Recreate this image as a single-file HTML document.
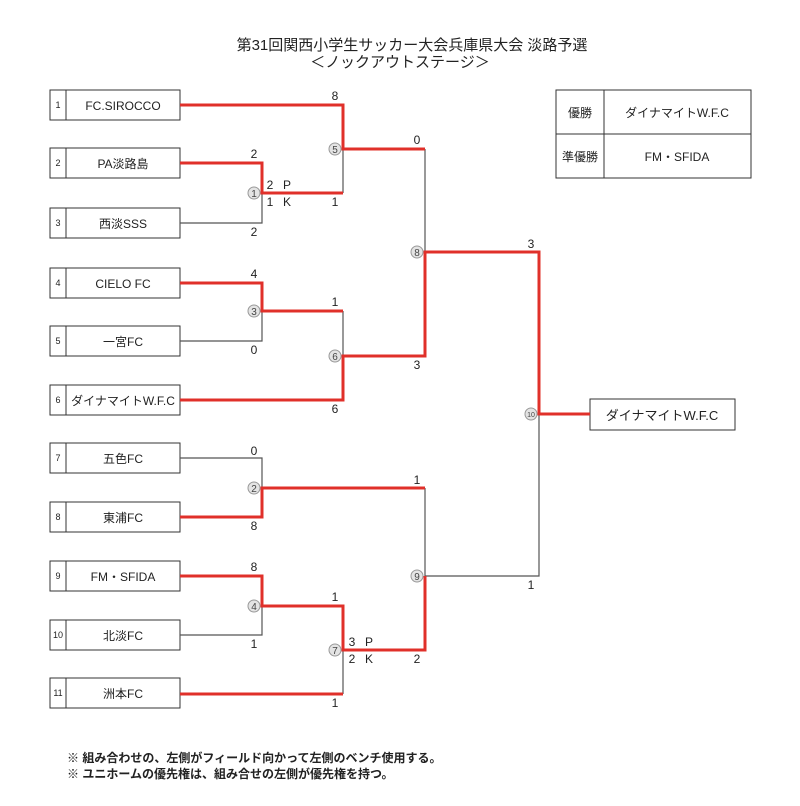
<!DOCTYPE html>
<html><head><meta charset="utf-8"><style>
html,body{margin:0;padding:0;background:#fff;}
svg{display:block;font-family:"Liberation Sans","Noto Sans CJK JP",sans-serif;}
</style></head><body>
<svg width="800" height="806" viewBox="0 0 800 806" xmlns="http://www.w3.org/2000/svg">
<g fill="#222" text-anchor="middle" font-size="15">
<text x="412" y="50">第31回関西小学生サッカー大会兵庫県大会 淡路予選</text>
<text x="400" y="67">＜ノックアウトステージ＞</text>
</g>
<g stroke="#333" stroke-width="1" fill="#fff">
<rect x="50" y="90" width="130" height="30"/><line x1="66" y1="90" x2="66" y2="120"/>
<rect x="50" y="148" width="130" height="30"/><line x1="66" y1="148" x2="66" y2="178"/>
<rect x="50" y="208" width="130" height="30"/><line x1="66" y1="208" x2="66" y2="238"/>
<rect x="50" y="268" width="130" height="30"/><line x1="66" y1="268" x2="66" y2="298"/>
<rect x="50" y="326" width="130" height="30"/><line x1="66" y1="326" x2="66" y2="356"/>
<rect x="50" y="385" width="130" height="30"/><line x1="66" y1="385" x2="66" y2="415"/>
<rect x="50" y="443" width="130" height="30"/><line x1="66" y1="443" x2="66" y2="473"/>
<rect x="50" y="502" width="130" height="30"/><line x1="66" y1="502" x2="66" y2="532"/>
<rect x="50" y="561" width="130" height="30"/><line x1="66" y1="561" x2="66" y2="591"/>
<rect x="50" y="620" width="130" height="30"/><line x1="66" y1="620" x2="66" y2="650"/>
<rect x="50" y="678" width="130" height="30"/><line x1="66" y1="678" x2="66" y2="708"/>
<rect x="590" y="399" width="145" height="31"/>
<rect x="556" y="90" width="195" height="88"/>
<line x1="556" y1="134" x2="751" y2="134"/><line x1="604" y1="90" x2="604" y2="178"/>
</g>
<g fill="#222" font-size="9" text-anchor="middle">
<text x="58" y="108">1</text><text x="58" y="166">2</text><text x="58" y="226">3</text><text x="58" y="286">4</text><text x="58" y="344">5</text><text x="58" y="403">6</text><text x="58" y="461">7</text><text x="58" y="520">8</text><text x="58" y="579">9</text><text x="58" y="638">10</text><text x="58" y="696">11</text>
</g>
<g fill="#222" font-size="12" text-anchor="middle">
<text x="123" y="110">FC.SIROCCO</text>
<text x="123" y="168">PA淡路島</text>
<text x="123" y="228">西淡SSS</text>
<text x="123" y="288">CIELO FC</text>
<text x="123" y="346">一宮FC</text>
<text x="123" y="405">ダイナマイトW.F.C</text>
<text x="123" y="463">五色FC</text>
<text x="123" y="522">東浦FC</text>
<text x="123" y="581">FM・SFIDA</text>
<text x="123" y="640">北淡FC</text>
<text x="123" y="698">洲本FC</text>
<text x="662" y="420" font-size="13">ダイナマイトW.F.C</text>
<text x="580" y="117">優勝</text>
<text x="677" y="117">ダイナマイトW.F.C</text>
<text x="580" y="161">準優勝</text>
<text x="677" y="161">FM・SFIDA</text>
</g>
<g stroke="#555" stroke-width="1.2" fill="none">
<polyline points="180,223 262,223 262,193"/>
<polyline points="343,149 343,193"/>
<polyline points="425,149 425,252"/>
<polyline points="180,341 262,341 262,311"/>
<polyline points="343,311 343,356"/>
<polyline points="180,458 262,458 262,488"/>
<polyline points="425,488 425,576"/>
<polyline points="180,635 262,635 262,606"/>
<polyline points="343,650 343,694"/>
<polyline points="425,576 539,576 539,414"/>
</g>
<g stroke="#e0302a" stroke-width="3" fill="none">
<polyline points="180,105 343,105 343,149 425,149"/>
<polyline points="180,163 262,163 262,193 343,193"/>
<polyline points="180,283 262,283 262,311 343,311"/>
<polyline points="180,400 343,400 343,356 425,356 425,252 539,252 539,414 590,414"/>
<polyline points="180,517 262,517 262,488 425,488"/>
<polyline points="180,576 262,576 262,606 343,606 343,650 425,650 425,576"/>
<polyline points="180,694 343,694"/>
</g>
<g fill="#e4e4e4" stroke="#999" stroke-width="1">
<circle cx="254" cy="193" r="6"/><circle cx="254" cy="488" r="6"/><circle cx="254" cy="311" r="6"/><circle cx="254" cy="606" r="6"/>
<circle cx="335" cy="149" r="6"/><circle cx="335" cy="356" r="6"/><circle cx="335" cy="650" r="6"/>
<circle cx="417" cy="252" r="6"/><circle cx="417" cy="576" r="6"/><circle cx="531" cy="414" r="6"/>
</g>
<g font-size="10" fill="#444" text-anchor="middle">
<text x="254" y="197">1</text><text x="254" y="492">2</text><text x="254" y="315">3</text><text x="254" y="610">4</text>
<text x="335" y="153">5</text><text x="335" y="360">6</text><text x="335" y="654">7</text>
<text x="417" y="256">8</text><text x="417" y="580">9</text><text x="531" y="417" font-size="7">10</text>
</g>
<g font-size="12" fill="#222" text-anchor="middle">
<text x="335" y="100">8</text><text x="335" y="206">1</text>
<text x="254" y="158">2</text><text x="254" y="236">2</text>
<text x="270" y="189">2</text><text x="287" y="189">P</text>
<text x="270" y="206">1</text><text x="287" y="206">K</text>
<text x="417" y="144">0</text><text x="417" y="369">3</text>
<text x="254" y="278">4</text><text x="254" y="354">0</text>
<text x="335" y="306">1</text><text x="335" y="413">6</text>
<text x="531" y="248">3</text><text x="531" y="589">1</text>
<text x="254" y="455">0</text><text x="254" y="530">8</text>
<text x="417" y="484">1</text><text x="417" y="663">2</text>
<text x="254" y="571">8</text><text x="254" y="648">1</text>
<text x="335" y="601">1</text><text x="335" y="707">1</text>
<text x="352" y="646">3</text><text x="369" y="646">P</text>
<text x="352" y="663">2</text><text x="369" y="663">K</text>
</g>
<g font-size="12" fill="#222" font-weight="bold">
<text x="67" y="762">※ 組み合わせの、左側がフィールド向かって左側のベンチ使用する。</text>
<text x="67" y="778">※ ユニホームの優先権は、組み合せの左側が優先権を持つ。</text>
</g>
</svg>
</body></html>
